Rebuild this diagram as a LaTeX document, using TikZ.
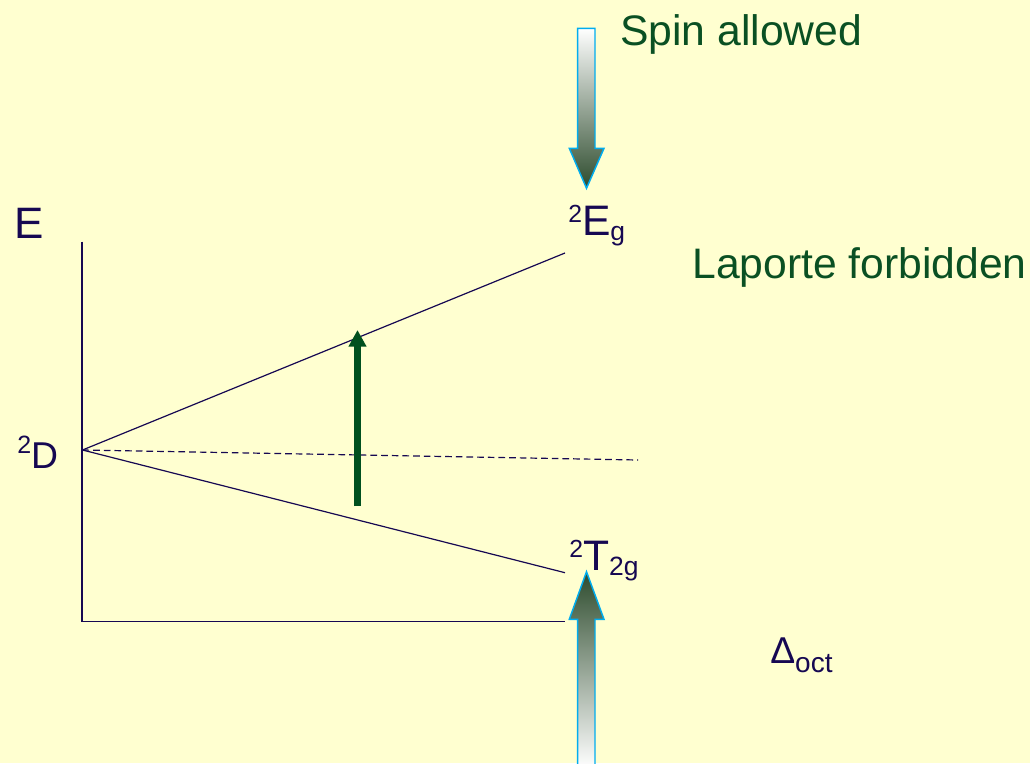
\documentclass[tikz,border=0pt]{standalone}
\usepackage{fontspec}
\setmainfont{Liberation Sans}
\usepackage{graphicx}
\usetikzlibrary{positioning,arrows.meta}
\definecolor{bgyellow}{RGB}{255,255,208}
\definecolor{lvlnavy}{RGB}{22,8,82}
\definecolor{txtgreen}{RGB}{10,80,35}
\definecolor{arrgreen}{RGB}{0,80,30}
\definecolor{shadegreen}{RGB}{45,75,45}
\newcommand{\supr}[1]{\raisebox{0.3em}{\scalebox{0.58}{#1}}}
\newcommand{\subr}[1]{\raisebox{-0.12em}{\scalebox{0.62}{#1}}}

\begin{document}
\begin{tikzpicture}[x=0.75pt,y=-0.75pt,
  lbl/.style={inner sep=0pt,anchor=base west,text=lvlnavy,
              font=\fontsize{32}{38}\selectfont},
  note/.style={lbl,text=txtgreen},
  ax/.style={draw=lvlnavy,line width=0.9pt},
  lvl/.style={draw=lvlnavy,line width=0.9pt},
  trans/.style={draw=arrgreen,line width=4.7pt,
                -{Triangle[length=12.5pt,width=12.75pt]}},
  bigarr/.style={draw=cyan,line width=1.1pt,line join=miter}
]
\useasboundingbox (0,0) rectangle (1030,763);
\fill[bgyellow] (0,0) rectangle (1030,763);

% axes and levels
\coordinate (axtop) at (82,241.7);
\coordinate (axcorner) at (82,621.7);
\coordinate (axend) at (565,621.7);
\coordinate (d) at (82.5,450);
\coordinate (egend) at (565,253);
\coordinate (tend) at (565,572.7);
\coordinate (dashend) at (638,460);

\draw[ax] (axtop) -- (axcorner) -- (axend);
\draw[lvl] (d) -- (egend);
\draw[lvl] (d) -- (tend);
\draw[lvl,dash pattern=on 5pt off 3pt] (d) -- (dashend);

% labels
\node[lbl,font=\fontsize{33}{40}\selectfont] (eaxis) at (14,238) {E};
\node[lbl,font=\fontsize{28}{34}\selectfont] (dterm) at (17,468)
  {\raisebox{0.4em}{\scalebox{0.67}{2}}D};
\node[lbl] (egterm) at (568,235) {\supr{2}E\subr{g}};
\node[lbl] (tterm) at (569,570.7) {\supr{2}T\subr{2g}};
\node[note] (laporte) at (692,278.3) {Laporte forbidden};
\node[note] (spin) at (620,46) {Spin allowed};
\node[lbl,font=\fontsize{28}{32}\selectfont] (doct) at (770,663)
  {Δ\raisebox{-7.2pt}{\fontsize{21}{24}\selectfont oct}};

% transition
\coordinate (trlow) at (357.5,506);
\coordinate (trhigh) at (357.5,330);
\draw[trans] (trlow) -- (trhigh);

% shaded arrows
\path[bigarr,top color=white,bottom color=shadegreen]
  (577.7,28.3) -- (595,28.3) -- (595,148.3) -- (604,148.3) -- (586.5,188.3)
  -- (569.3,148.3) -- (577.7,148.3) -- cycle;
\path[bigarr,top color=shadegreen,bottom color=white]
  (586.5,571.7) -- (604,619.3) -- (595,619.3) -- (595,768) -- (577.7,768)
  -- (577.7,619.3) -- (569.3,619.3) -- cycle;
\end{tikzpicture}
\end{document}
